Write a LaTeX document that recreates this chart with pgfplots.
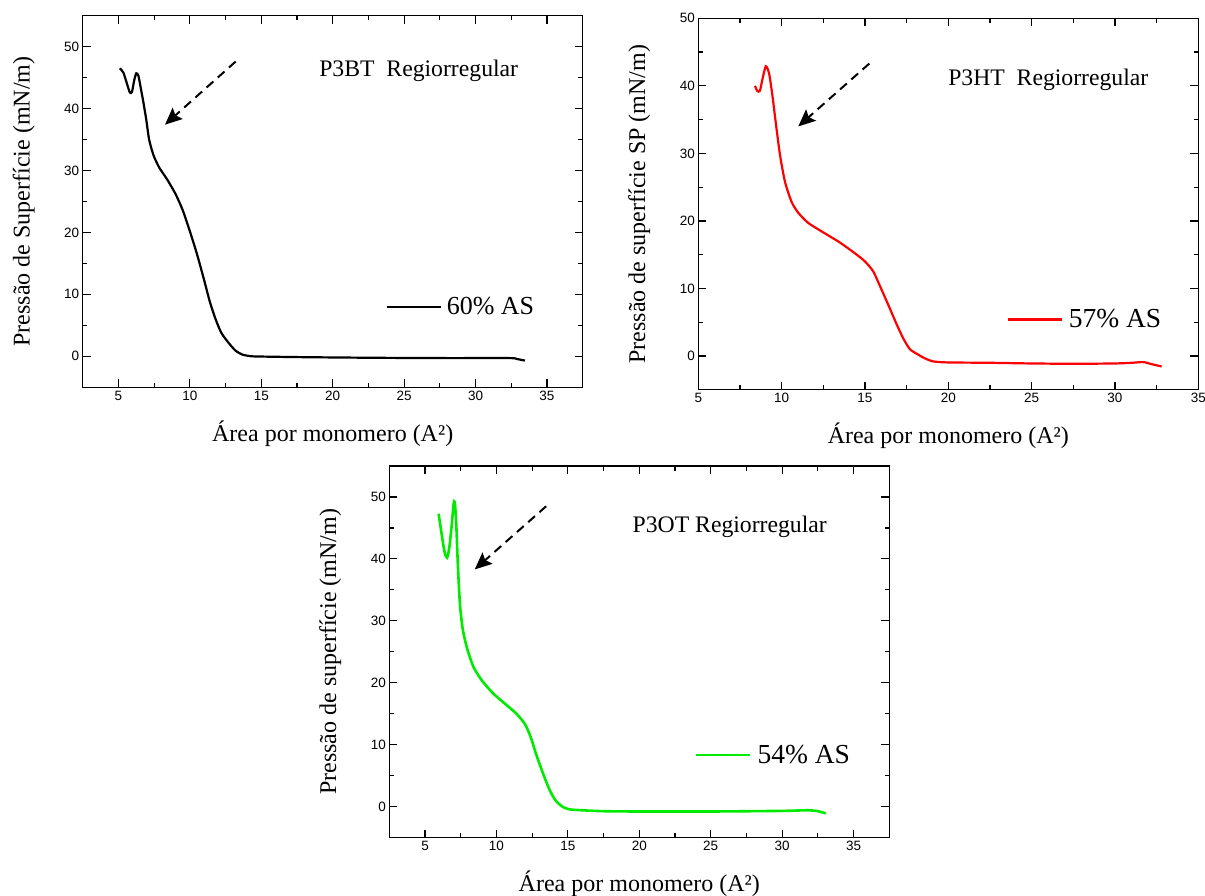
\documentclass[border=0pt]{standalone}
\usepackage{fontspec}
\setmainfont{Liberation Serif}
\newfontfamily\ticksf{Liberation Sans}
\usepackage{pgfplots}
\pgfplotsset{compat=1.18}
\usetikzlibrary{arrows.meta}
\definecolor{cgreen}{RGB}{0,235,0}
\definecolor{cred}{RGB}{255,0,0}

\pgfplotstableread{
x y
5.10 46.5
5.35 45.8
5.60 44.0
5.80 42.6
5.95 42.7
6.10 44.5
6.25 45.7
6.40 45.3
6.55 43.5
6.75 41.0
6.95 38.2
7.15 35.0
7.45 32.5
7.85 30.5
8.4 28.6
9.0 26.2
9.5 23.6
10.0 20.2
10.5 16.5
11.0 12.3
11.4 8.8
11.8 6.0
12.2 3.8
12.7 2.2
13.2 0.9
13.7 0.25
14.3 0.0
15 -0.05
18 -0.15
23 -0.25
28 -0.3
32.4 -0.3
32.9 -0.45
33.45 -0.7
}\dataBT

\pgfplotstableread{
x y
8.40 40.0
8.55 39.2
8.70 39.3
8.85 41.0
9.05 42.9
9.25 41.8
9.45 38.5
9.65 34.5
9.90 29.8
10.2 25.8
10.6 22.8
11.0 21.2
11.6 19.7
12.5 18.3
13.5 16.8
14.4 15.2
15.0 14.0
15.5 12.5
16.0 9.8
16.5 7.0
16.9 4.7
17.3 2.6
17.7 1.0
18.2 0.2
18.6 -0.35
19.1 -0.8
20.0 -0.95
22.5 -1.0
25.0 -1.1
27.5 -1.15
30.0 -1.1
31.0 -1.0
31.7 -0.9
32.2 -1.2
32.8 -1.55
}\dataHT

\pgfplotstableread{
x y
5.95 47.3
6.10 45.0
6.25 42.7
6.40 40.8
6.55 40.2
6.70 41.8
6.85 45.0
7.00 48.8
7.08 49.2
7.18 46.0
7.30 39.0
7.45 32.5
7.65 28.5
7.95 25.5
8.4 22.5
9.0 20.3
9.8 18.2
10.6 16.6
11.4 15.0
12.0 13.3
12.4 11.2
12.8 8.3
13.3 5.1
13.7 2.8
14.1 1.1
14.6 0.0
15.1 -0.45
16.0 -0.6
17.5 -0.75
20.0 -0.8
25.0 -0.8
30.0 -0.7
31.8 -0.6
32.5 -0.75
33.05 -1.1
}\dataOT

\tikzset{
  myarrow/.style={line width=2pt, dash pattern=on 9pt off 6pt, -{Stealth[length=17pt,width=15pt,inset=3pt]}},
}
\pgfplotsset{
  mystyle/.style={
    scale only axis,
    width=500pt, height=371.5pt,
    axis line style={line width=1.2pt},
    tick style={line width=1.2pt, black},
    major tick length=8pt, minor tick length=4.5pt,
    tick align=inside,
    xtick={5,10,...,35}, minor x tick num=1,
    ytick={0,10,...,50}, minor y tick num=1,
    tick label style={font=\ticksf\fontsize{13.5}{15}\selectfont},
    /pgf/number format/assume math mode=true,
    every axis x label/.style={at={(axis description cs:0.5,-0.124)}, anchor=center, font=\fontsize{24}{28}\selectfont},
    every axis y label/.style={at={(axis description cs:-0.118,0.5)}, anchor=center, rotate=90, font=\fontsize{24}{28}\selectfont},
    xlabel={Área por monomero (A²)},
    legend style={draw=none, fill=none, inner sep=0pt, outer sep=0pt, anchor=west},
    legend image code/.code={\draw[##1] (0pt,0pt) -- (54pt,0pt);},
  },
}

\begin{document}
\begin{tikzpicture}
\useasboundingbox (0,0) rectangle (1205pt,-895pt);

% Plot 1
\begin{axis}[mystyle, at={(82.7pt,-15.7pt)}, anchor=north west,
  xmin=2.5, xmax=37.5, ymin=-5, ymax=55,
  ylabel={Pressão de Superfície (mN/m)},
  legend style={at={(axis cs:23.7,8)}, font=\fontsize{26}{30}\selectfont}]
\addplot[black, line width=2.2pt, smooth, tension=0.4] table {\dataBT};
\addlegendentry{\hspace{3pt}60\% AS}
\draw[myarrow] (axis cs:13.21,47.6) -- (axis cs:8.26,37.4);
\node[font=\fontsize{23.7}{28}\selectfont] at (axis cs:26.02,46.1) {P3BT\ \ Regiorregular};
\end{axis}

% Plot 2
\begin{axis}[mystyle, at={(698.3pt,-18.3pt)}, anchor=north west,
  xmin=5, xmax=35, ymin=-5, ymax=50,
  ylabel={Pressão de superfície SP (mN/m)},
  legend style={at={(axis cs:23.5,5.4)}, font=\fontsize{27.5}{32}\selectfont}]
\addplot[cred, line width=2.2pt, smooth, tension=0.4] table {\dataHT};
\addlegendentry{\hspace{4pt}57\% AS}
\draw[myarrow] (axis cs:15.26,43.3) -- (axis cs:11.0,34.0);
\node[font=\fontsize{23.7}{28}\selectfont] at (axis cs:26.0,40.9) {P3HT\ \ Regiorregular};
\end{axis}

% Plot 3
\begin{axis}[mystyle, at={(389.3pt,-466pt)}, anchor=north west,
  xmin=2.5, xmax=37.5, ymin=-5, ymax=55,
  ylabel={Pressão de superfície (mN/m)},
  legend style={at={(axis cs:23.9,8.3)}, font=\fontsize{27.5}{32}\selectfont}]
\addplot[cgreen, line width=2.6pt, smooth, tension=0.4] table {\dataOT};
\addlegendentry{\hspace{4pt}54\% AS}
\draw[myarrow] (axis cs:13.48,48.5) -- (axis cs:8.48,38.3);
\node[font=\fontsize{23.7}{28}\selectfont] at (axis cs:26.33,45.2) {P3OT Regiorregular};
\end{axis}
\end{tikzpicture}
\end{document}
